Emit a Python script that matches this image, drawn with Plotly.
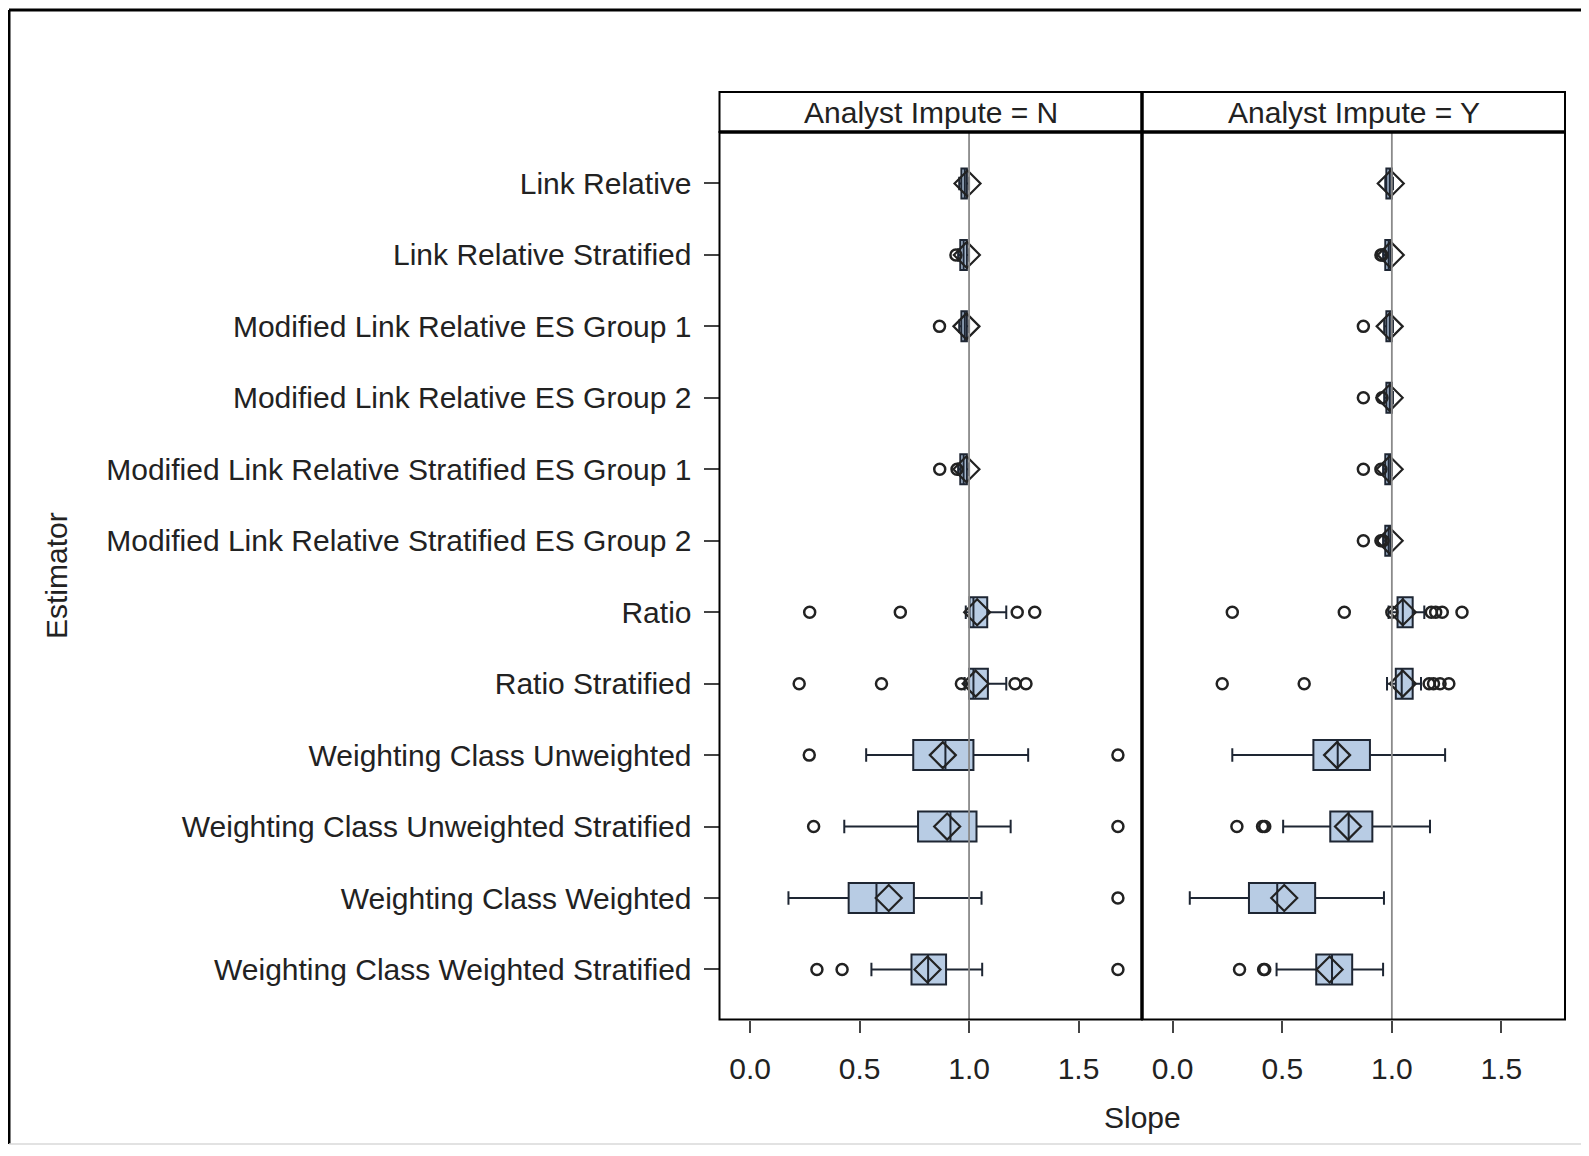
import plotly.graph_objects as go

# ---------------- data ----------------
categories = [
    "Link Relative",
    "Link Relative Stratified",
    "Modified Link Relative ES Group 1",
    "Modified Link Relative ES Group 2",
    "Modified Link Relative Stratified ES Group 1",
    "Modified Link Relative Stratified ES Group 2",
    "Ratio",
    "Ratio Stratified",
    "Weighting Class Unweighted",
    "Weighting Class Unweighted Stratified",
    "Weighting Class Weighted",
    "Weighting Class Weighted Stratified",
]
panels = ["Analyst Impute = N", "Analyst Impute = Y"]

# Analyst Impute = N  (None = no data)
n_lower = [0.955, 0.950, 0.955, None, 0.950, None, 0.985, 0.980, 0.530, 0.430, 0.175, 0.554]
n_q1 = [0.965, 0.960, 0.965, None, 0.960, None, 1.002, 1.000, 0.745, 0.767, 0.450, 0.737]
n_median = [0.980, 0.975, 0.980, None, 0.975, None, 1.020, 1.020, 0.892, 0.915, 0.577, 0.813]
n_q3 = [0.990, 0.990, 0.990, None, 0.990, None, 1.083, 1.086, 1.020, 1.034, 0.748, 0.895]
n_upper = [1.000, 1.000, 1.000, None, 1.000, None, 1.170, 1.170, 1.270, 1.190, 1.057, 1.060]
n_mean = [0.993, 0.990, 0.988, None, 0.988, None, 1.037, 1.030, 0.880, 0.900, 0.633, 0.810]
n_outliers = [
    [], [0.940], [0.865], [], [0.866, 0.945], [],
    [0.272, 0.686, 1.22, 1.30],
    [0.224, 0.600, 0.965, 1.21, 1.26],
    [0.270, 1.68],
    [0.290, 1.68],
    [1.68],
    [0.305, 0.420, 1.68],
]

# Analyst Impute = Y
y_lower = [0.970, 0.960, 0.965, 0.965, 0.960, 0.960, 0.985, 0.978, 0.272, 0.504, 0.078, 0.474]
y_q1 = [0.975, 0.970, 0.975, 0.975, 0.970, 0.970, 1.026, 1.018, 0.642, 0.719, 0.348, 0.655]
y_median = [0.990, 0.985, 0.990, 0.990, 0.985, 0.985, 1.050, 1.045, 0.753, 0.803, 0.477, 0.727]
y_q3 = [1.000, 0.995, 1.000, 1.000, 0.995, 0.995, 1.095, 1.095, 0.900, 0.911, 0.650, 0.819]
y_upper = [1.005, 1.000, 1.005, 1.005, 1.000, 1.000, 1.148, 1.133, 1.243, 1.174, 0.964, 0.960]
y_mean = [0.995, 0.995, 0.990, 0.990, 0.990, 0.990, 1.050, 1.050, 0.750, 0.800, 0.509, 0.716]
y_outliers = [
    [], [0.950, 0.955], [0.870], [0.870, 0.955], [0.870, 0.950], [0.870, 0.950, 0.960],
    [0.272, 0.783, 1.000, 1.18, 1.20, 1.23, 1.32],
    [0.226, 0.600, 1.17, 1.19, 1.22, 1.26],
    [],
    [0.293, 0.410, 0.420],
    [],
    [0.305, 0.415, 0.420],
]

x_tickvals = [0.0, 0.5, 1.0, 1.5]
x_ticktext = ["0.0", "0.5", "1.0", "1.5"]
reference_value = 1.0

# ---------------- style ----------------
PAGE_MARGIN = 8          # browser default body margin
W, H = 1589 - 2 * PAGE_MARGIN, 1156 - 2 * PAGE_MARGIN
FONT = "Liberation Sans, Arial, sans-serif"
TXT = "#222222"
BOX_FILL = "#b8cce4"
BOX_LINE = "#1e2633"
FS = 30

# panel geometry (page pixels of the reference)
px_left, px_mid, px_right = 719.5, 1142, 1565
py_head_top, py_top, py_bottom = 92, 132, 1019.5


def fx(px):
    return (px - PAGE_MARGIN) / W


def fy(py):
    return 1 - (py - PAGE_MARGIN) / H


fig = go.Figure()

series = [
    (n_lower, n_q1, n_median, n_q3, n_upper, n_mean, n_outliers, "x", "y"),
    (y_lower, y_q1, y_median, y_q3, y_upper, y_mean, y_outliers, "x2", "y2"),
]

for lo, q1, med, q3, up, mn, outs, xa, ya in series:
    idx = [i for i in range(len(categories)) if q1[i] is not None]
    fig.add_trace(go.Box(
        y=[categories[i] for i in idx],
        q1=[q1[i] for i in idx],
        median=[med[i] for i in idx],
        q3=[q3[i] for i in idx],
        lowerfence=[lo[i] for i in idx],
        upperfence=[up[i] for i in idx],
        orientation="h",
        width=0.42,
        whiskerwidth=0.45,
        fillcolor=BOX_FILL,
        line=dict(color=BOX_LINE, width=2),
        boxpoints=False,
        showlegend=False,
        xaxis=xa, yaxis=ya,
    ))
    ox, oy = [], []
    for i in range(len(categories)):
        for v in outs[i]:
            ox.append(v)
            oy.append(categories[i])
    fig.add_trace(go.Scatter(
        x=ox, y=oy, mode="markers",
        marker=dict(symbol="circle-open", size=11, color="#222222",
                    line=dict(width=2.5, color="#222222")),
        showlegend=False, xaxis=xa, yaxis=ya,
    ))
    fig.add_trace(go.Scatter(
        x=[mn[i] for i in idx], y=[categories[i] for i in idx], mode="markers",
        marker=dict(symbol="diamond-open", size=20, color="#222222",
                    line=dict(width=2.2, color="#222222")),
        showlegend=False, xaxis=xa, yaxis=ya,
    ))

xcommon = dict(
    range=[-0.14, 1.79], tickvals=x_tickvals, ticktext=x_ticktext,
    ticks="outside", ticklen=12, tickwidth=2, tickcolor="#444444",
    showgrid=False, zeroline=False, showline=False,
    tickfont=dict(family=FONT, size=FS, color=TXT),
    ticklabelstandoff=10,
)
ycommon = dict(
    type="category", categoryorder="array", categoryarray=categories,
    range=[11.7, -0.72], domain=[fy(py_bottom), fy(py_top)],
    showgrid=False, zeroline=False, showline=False,
)

fig.update_layout(
    width=W, height=H,
    margin=dict(l=0, r=0, t=0, b=0),
    paper_bgcolor="white", plot_bgcolor="white",
    font=dict(family=FONT, size=FS, color=TXT),
    xaxis=dict(domain=[fx(px_left), fx(px_mid)], anchor="y", **xcommon),
    xaxis2=dict(domain=[fx(px_mid), fx(px_right)], anchor="y2", **xcommon),
    yaxis=dict(anchor="x", ticks="outside", ticklen=15, tickwidth=2, tickcolor="#444444",
               tickfont=dict(family=FONT, size=FS, color=TXT), ticklabelstandoff=6,
               **ycommon),
    yaxis2=dict(anchor="x2", matches="y", showticklabels=False, ticks="", **ycommon),
)

shapes = []
# reference lines at 1.0
for xa in ["x", "x2"]:
    shapes.append(dict(type="line", xref=xa, yref="paper",
                       x0=reference_value, x1=reference_value,
                       y0=fy(py_bottom), y1=fy(py_top),
                       line=dict(color="#8a8a8a", width=1.8), layer="above"))
# panel frames
for x0, x1 in [(px_left, px_mid), (px_mid, px_right)]:
    shapes.append(dict(type="rect", xref="paper", yref="paper",
                       x0=fx(x0), x1=fx(x1), y0=fy(py_bottom), y1=fy(py_top),
                       line=dict(color="black", width=2)))
    shapes.append(dict(type="rect", xref="paper", yref="paper",
                       x0=fx(x0), x1=fx(x1), y0=fy(py_top), y1=fy(py_head_top),
                       line=dict(color="black", width=2)))
# thicker header bottom & divider
shapes.append(dict(type="line", xref="paper", yref="paper",
                   x0=fx(px_left), x1=fx(px_right), y0=fy(py_top), y1=fy(py_top),
                   line=dict(color="black", width=3.5)))
shapes.append(dict(type="line", xref="paper", yref="paper",
                   x0=fx(px_mid), x1=fx(px_mid), y0=fy(py_bottom), y1=fy(py_head_top),
                   line=dict(color="black", width=3.5)))
# outer figure border (left/top black, bottom faint)
shapes.append(dict(type="line", xref="paper", yref="paper",
                   x0=fx(9), x1=fx(9), y0=fy(1144), y1=fy(10),
                   line=dict(color="black", width=3)))
shapes.append(dict(type="line", xref="paper", yref="paper",
                   x0=fx(9), x1=1, y0=fy(10), y1=fy(10),
                   line=dict(color="black", width=3)))
shapes.append(dict(type="line", xref="paper", yref="paper",
                   x0=fx(9), x1=1, y0=fy(1144), y1=fy(1144),
                   line=dict(color="#d8d8d8", width=1.5)))
fig.update_layout(shapes=shapes)

annotations = []
for (x0, x1), label in zip([(px_left, px_mid), (px_mid, px_right)], panels):
    annotations.append(dict(text=label, xref="paper", yref="paper",
                            x=fx((x0 + x1) / 2), y=fy((py_head_top + py_top) / 2),
                            xanchor="center", yanchor="middle", showarrow=False,
                            font=dict(family=FONT, size=FS, color=TXT)))
annotations.append(dict(text="Slope", xref="paper", yref="paper",
                        x=fx((px_left + px_right) / 2), y=fy(1117),
                        xanchor="center", yanchor="middle", showarrow=False,
                        font=dict(family=FONT, size=FS, color=TXT)))
annotations.append(dict(text="Estimator", xref="paper", yref="paper",
                        x=fx(56), y=fy(576), textangle=-90,
                        xanchor="center", yanchor="middle", showarrow=False,
                        font=dict(family=FONT, size=FS, color=TXT)))
fig.update_layout(annotations=annotations)

fig.write_html("out.html")
